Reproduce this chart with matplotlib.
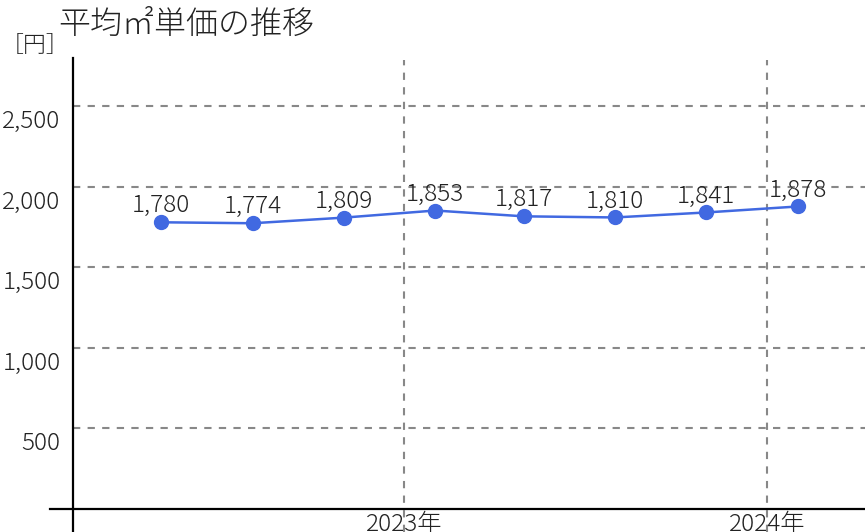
import matplotlib
matplotlib.use("Agg")
import matplotlib.pyplot as plt
import matplotlib.transforms as mtransforms
import datetime as dt

plt.rcParams['font.family'] = ['Noto Sans CJK JP', 'DejaVu Sans']
plt.rcParams['font.weight'] = 'light'

# ---- data ----
dates = ["2022-05-01", "2022-08-01", "2022-11-01", "2023-02-01",
         "2023-05-01", "2023-08-01", "2023-11-01", "2024-02-01"]
values = [1780, 1774, 1809, 1853, 1817, 1810, 1841, 1878]
year_ticks = ["2023-01-01", "2024-01-01"]
year_labels = ["2023年", "2024年"]
y_ticks = [500, 1000, 1500, 2000, 2500]
title = "平均㎡単価の推移"
unit = "［円］"

x = [dt.datetime.fromisoformat(d) for d in dates]
xt = [dt.datetime.fromisoformat(d) for d in year_ticks]

W, H = 865, 532
fig = plt.figure(figsize=(W / 100, H / 100), dpi=100)
ax = fig.add_axes([73 / W, 0, (W - 73) / W, (532 - 58) / H])

line_color = "#4169E1"
grid_color = "#888888"
text_color = "#222222"

ax.plot(x, values, color=line_color, lw=1.8, marker="o", ms=10, zorder=5, clip_on=False)
for xi, v in zip(x, values):
    ax.annotate(f"{v:,}", (xi, v), xytext=(0, 10), textcoords="offset pixels",
                ha="center", va="baseline", fontsize=17.5, color=text_color, zorder=6)

ax.set_xlim(dt.datetime(2022, 2, 1), dt.datetime(2024, 4, 9))
ax.set_ylim(-143, 2800)

for yv in y_ticks:
    ax.axhline(yv, color=grid_color, lw=1.5, ls=(0, (3.5, 3.5)), zorder=1)
for xv in xt:
    ax.axvline(xv, color=grid_color, lw=1.5, ls=(0, (3.5, 3.5)), zorder=1, ymax=0.995)

# x-axis line at y=0 extending a bit left of the y spine
ax.axhline(0, xmin=-23 / (W - 73), xmax=1, color="black", lw=1.6, clip_on=False, zorder=4)

for s in ["top", "right", "bottom"]:
    ax.spines[s].set_visible(False)
ax.spines["left"].set_linewidth(1.6)
ax.spines["left"].set_color("black")

ax.set_yticks(y_ticks)
ax.set_yticklabels([f"{v:,}" for v in y_ticks], fontsize=17.5, color=text_color)
ax.tick_params(axis="y", length=0, pad=9)
for lab in ax.get_yticklabels():
    lab.set_va("top")
    lab.set_transform(lab.get_transform() + mtransforms.ScaledTranslation(0, -3 / 100, fig.dpi_scale_trans))

ax.set_xticks(xt)
ax.set_xticklabels([])
ax.tick_params(axis="x", length=0)
for xv, lab in zip(xt, year_labels):
    ax.annotate(lab, (xv, 0), xytext=(0, -3), textcoords="offset pixels",
                ha="center", va="top", fontsize=17.5, color=text_color, annotation_clip=False)

fig.text(58 / W, 1 - 25 / H, title, fontsize=23, va="center", ha="left", color=text_color)
fig.text(35 / W, 1 - 46 / H, unit, fontsize=16.5, va="center", ha="center", color=text_color)

fig.savefig("out.png", dpi=100)
